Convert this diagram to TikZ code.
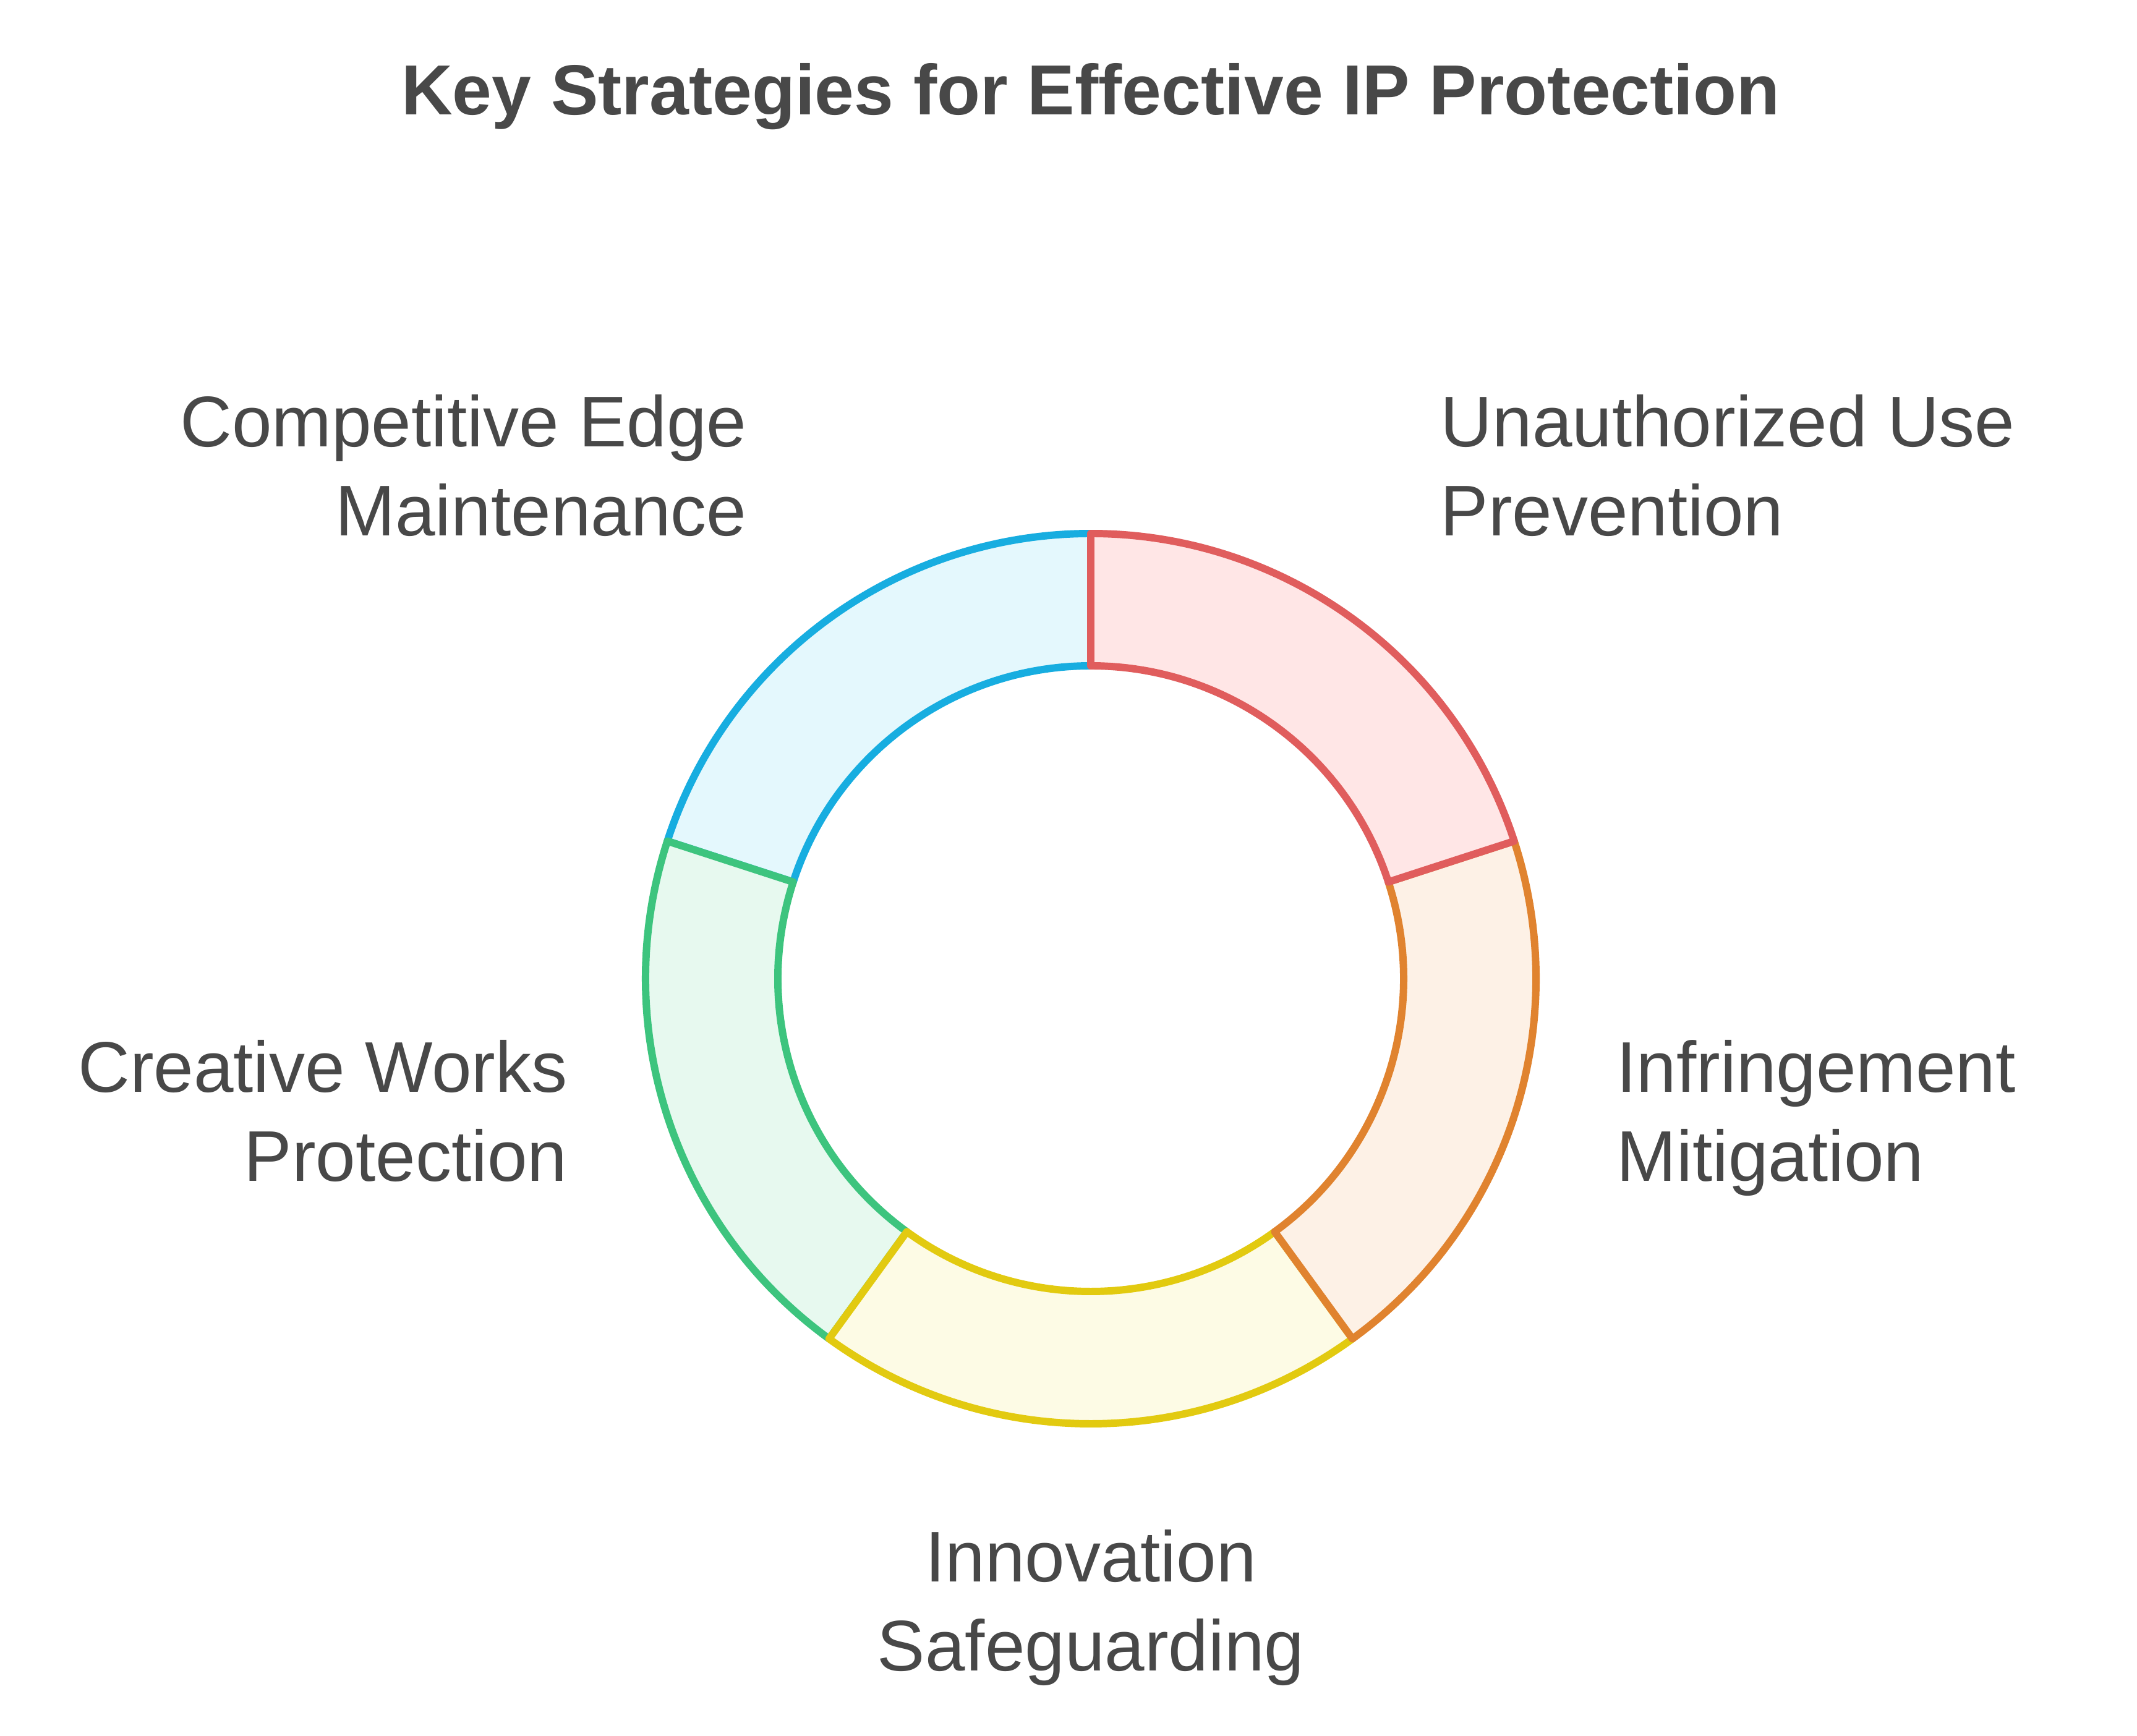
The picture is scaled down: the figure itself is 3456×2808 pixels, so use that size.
\documentclass[tikz,border=0pt]{standalone}
\usepackage{fontspec}
\setmainfont{Liberation Sans}
\usepackage{xcolor}
\usepackage{tikz}
\usetikzlibrary{positioning,calc}

\definecolor{inkgray}{HTML}{484848}
\definecolor{lnred}{HTML}{E05D5D}
\definecolor{flred}{HTML}{FFE6E6}
\definecolor{lnorange}{HTML}{E0832F}
\definecolor{florange}{HTML}{FDF1E6}
\definecolor{lnyellow}{HTML}{E2CA10}
\definecolor{flyellow}{HTML}{FDFBE5}
\definecolor{lngreen}{HTML}{3DC47E}
\definecolor{flgreen}{HTML}{E7F9EF}
\definecolor{lnblue}{HTML}{17ADE0}
\definecolor{flblue}{HTML}{E4F8FD}

\begin{document}
\begin{tikzpicture}[
    x=0.01cm, y=0.01cm,
    slice/.style={line width=3.4pt, line join=round},
    caption/.style={text=inkgray, inner sep=0pt, align=#1, font=\fontsize{33}{41}\selectfont},
    headline/.style={text=inkgray, inner sep=0pt, font=\fontsize{32.6}{40}\selectfont\bfseries}
  ]
    \useasboundingbox (0,0) rectangle (3456,2808);
    \coordinate (hub) at (1764,1225);
    % ring, drawn so that the later slice lies on top
    \foreach \a/\c in {162/blue, 234/green, 306/yellow, 378/orange, 450/red}{
      \pgfmathsetmacro\b{\a-72}
      \draw[slice, draw=ln\c, fill=fl\c]
        ($(hub)+(\a:720)$) arc[start angle=\a, end angle=\b, radius=720]
        -- ($(hub)+(\b:506)$) arc[start angle=\b, end angle=\a, radius=506] -- cycle;
    }
    \node[headline, anchor=base] (title) at (1764,2622) {Key Strategies for Effective IP Protection};
    % base anchor sits on the last line
    \node[caption=left, anchor=base west] (unauth) at (2329,1941) {Unauthorized Use\\Prevention};
    \node[caption=left, anchor=base west] (infring) at (2614,897) {Infringement\\Mitigation};
    \node[caption=center, anchor=base] (innov) at (1764,105) {Innovation\\Safeguarding};
    \node[caption=right, anchor=base east] (creative) at (918,897) {Creative Works\\Protection};
    \node[caption=right, anchor=base east] (edge) at (1208,1941) {Competitive Edge\\Maintenance};
  \end{tikzpicture}
\end{document}
